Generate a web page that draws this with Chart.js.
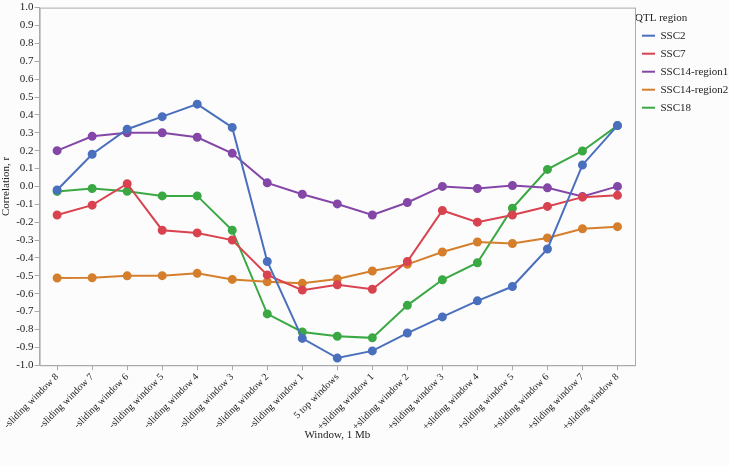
<!DOCTYPE html>
<html>
<head>
<meta charset="utf-8">
<script src="https://cdn.jsdelivr.net/npm/chart.js@4/dist/chart.umd.min.js"></script>
<style>
  body { margin: 0; background: #fcfcfc; }
  #wrap { width: 729px; height: 466px; }
</style>
</head>
<body>
<div id="wrap"><canvas id="corrChart" width="729" height="466"></canvas></div>
<script>
// Categories along the x axis
const windows = [
    "-sliding window 8", "-sliding window 7", "-sliding window 6", "-sliding window 5",
    "-sliding window 4", "-sliding window 3", "-sliding window 2", "-sliding window 1",
    "5 top windows",
    "+sliding window 1", "+sliding window 2", "+sliding window 3", "+sliding window 4",
    "+sliding window 5", "+sliding window 6", "+sliding window 7", "+sliding window 8"
];

// Correlation values per QTL region
const ssc2 = [-0.02, 0.18, 0.32, 0.39, 0.46, 0.33, -0.42, -0.85, -0.96, -0.92, -0.82, -0.73, -0.64, -0.56, -0.35, 0.12, 0.34];
const ssc7 = [-0.16, -0.105, 0.015, -0.245, -0.26, -0.30, -0.495, -0.58, -0.55, -0.575, -0.42, -0.135, -0.20, -0.16, -0.112, -0.06, -0.05];
const ssc14r1 = [0.20, 0.28, 0.30, 0.30, 0.275, 0.185, 0.02, -0.044, -0.098, -0.16, -0.09, 0.0, -0.012, 0.005, -0.008, -0.056, 0.0];
const ssc14r2 = [-0.512, -0.511, -0.50, -0.499, -0.486, -0.52, -0.533, -0.542, -0.518, -0.473, -0.436, -0.367, -0.311, -0.319, -0.288, -0.237, -0.225];
const ssc18 = [-0.028, -0.012, -0.027, -0.053, -0.053, -0.245, -0.713, -0.814, -0.838, -0.847, -0.665, -0.522, -0.427, -0.122, 0.095, 0.198, 0.34];

const seriesNames = ["SSC2", "SSC7", "SSC14-region1", "SSC14-region2", "SSC18"];
const seriesColors = ["#4a6fbd", "#d8434f", "#8447a7", "#d57f2c", "#3aa843"];

const serif = "'Liberation Serif', 'DejaVu Serif', serif";

function makeSet(name, values, color) {
    return {
        label: name,
        data: values,
        borderColor: color,
        backgroundColor: color,
        borderWidth: 2,
        pointRadius: 3.5,
        pointHoverRadius: 3.5,
        pointBorderWidth: 2,
        tension: 0
    };
}

const ctx = document.getElementById("corrChart").getContext("2d");
const chart = new Chart(ctx, {
    type: "line",
    data: {
        labels: windows,
        datasets: [
            makeSet(seriesNames[0], ssc2, seriesColors[0]),
            makeSet(seriesNames[1], ssc7, seriesColors[1]),
            makeSet(seriesNames[2], ssc14r1, seriesColors[2]),
            makeSet(seriesNames[3], ssc14r2, seriesColors[3]),
            makeSet(seriesNames[4], ssc18, seriesColors[4])
        ]
    },
    options: {
        responsive: false,
        animation: false,
        layout: { padding: { top: 0, right: 0, left: 0, bottom: 24 } },
        plugins: {
            tooltip: { enabled: false },
            legend: {
                position: "right",
                align: "start",
                maxWidth: 94,
                title: {
                    display: true,
                    position: "start",
                    text: "QTL region",
                    color: "#222",
                    font: { family: serif, size: 11 },
                    padding: { top: 13, bottom: -3 }
                },
                labels: {
                    usePointStyle: true,
                    pointStyle: "line",
                    pointStyleWidth: 13,
                    padding: 7,
                    color: "#222",
                    font: { family: serif, size: 11 }
                }
            }
        },
        scales: {
            x: {
                offset: true,
                grid: { display: true, drawOnChartArea: false, tickLength: 5, color: "#aaa" },
                border: { color: "#aaa" },
                ticks: {
                    autoSkip: false,
                    maxRotation: 45,
                    minRotation: 45,
                    padding: 1,
                    color: "#222",
                    font: { family: serif, size: 10 }
                },
                title: {
                    display: true,
                    text: "Window, 1 Mb",
                    color: "#222",
                    font: { family: serif, size: 11 },
                    padding: { top: -5, bottom: 0 }
                }
            },
            y: {
                min: -1,
                max: 1,
                grid: { display: true, drawOnChartArea: false, tickLength: 5, color: "#aaa" },
                border: { color: "#aaa" },
                ticks: {
                    stepSize: 0.1,
                    autoSkip: false,
                    padding: 1,
                    color: "#222",
                    font: { family: serif, size: 11 },
                    callback: (v) => v.toFixed(1)
                },
                title: {
                    display: true,
                    text: "Correlation, r",
                    color: "#222",
                    font: { family: serif, size: 11 },
                    padding: { top: 0, bottom: 2 }
                }
            }
        }
    },
    plugins: [{
        // frame around the plot area, as in the original figure
        id: "frame",
        afterDraw(c) {
            const a = c.chartArea;
            c.ctx.save();
            c.ctx.strokeStyle = "#aaa";
            c.ctx.lineWidth = 1;
            c.ctx.strokeRect(a.left + 0.5, a.top + 0.5, a.right - a.left, a.bottom - a.top);
            c.ctx.restore();
        }
    }]
});
</script>
</body>
</html>
